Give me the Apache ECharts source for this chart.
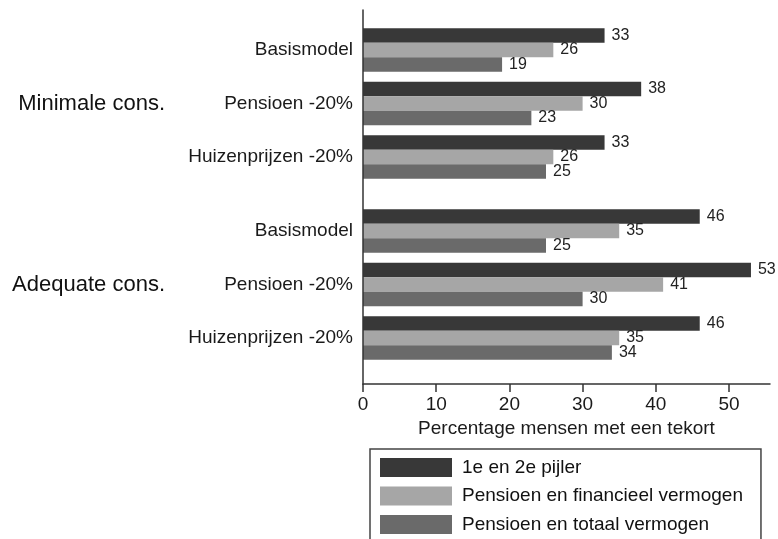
<!DOCTYPE html>
<html>
<head>
<meta charset="utf-8">
<title>Percentage mensen met een tekort</title>
<script src="https://cdn.jsdelivr.net/npm/echarts@6/dist/echarts.min.js"></script>
<style>
  html, body { margin: 0; padding: 0; background: #fff; }
  #chart { width: 778px; height: 539px; }
</style>
</head>
<body>
<div id="chart"></div>
<script>
// data
var categories = ["Basismodel", "Pensioen -20%", "Huizenprijzen -20%"];
var groups = ["Minimale cons.", "Adequate cons."];
var seriesNames = ["1e en 2e pijler", "Pensioen en financieel vermogen", "Pensioen en totaal vermogen"];
var minimalePijler = [33, 38, 33];
var minimaleFinancieel = [26, 30, 26];
var minimaleTotaal = [19, 23, 25];
var adequatePijler = [46, 53, 46];
var adequateFinancieel = [35, 41, 35];
var adequateTotaal = [25, 30, 34];
var xTicks = [0, 10, 20, 30, 40, 50];

var colorList = ["#383838", "#a6a6a6", "#6a6a6a"];
var xMax = 55.6;
var font = "Liberation Sans";

var chart = echarts.init(document.getElementById("chart"));

function barGridAxes(gridIndex) {
  return {
    x: {
      type: "value",
      gridIndex: gridIndex,
      min: 0,
      max: xMax,
      show: false
    },
    y: [
      {
        type: "category",
        gridIndex: gridIndex,
        inverse: true,
        data: categories,
        axisLine: { show: false },
        axisTick: { show: false },
        axisLabel: { margin: 10, fontSize: 19, color: "#1a1a1a" }
      },
      {
        // groepslabel links
        type: "category",
        gridIndex: gridIndex,
        position: "left",
        offset: 190,
        data: [groups[gridIndex - 1]],
        axisLine: { show: false },
        axisTick: { show: false },
        axisLabel: { margin: 8, fontSize: 22, color: "#111" }
      }
    ]
  };
}

function makeSeries(values, idx, gridIndex) {
  var yIndex = gridIndex === 1 ? 1 : 3;
  return {
    name: seriesNames[idx],
    type: "bar",
    xAxisIndex: gridIndex,
    yAxisIndex: yIndex,
    barGap: "0%",
    barCategoryGap: "19%",
    itemStyle: { color: colorList[idx] },
    label: {
      show: true,
      position: "right",
      distance: 7,
      fontSize: 16,
      color: "#222"
    },
    data: values
  };
}

var g1 = barGridAxes(1);
var g2 = barGridAxes(2);

var option = {
  animation: false,
  textStyle: { fontFamily: font },
  grid: [
    // frame with the axes
    { left: 363, right: 8, top: 10, bottom: 155 },
    { left: 363, right: 8, top: 23.25, height: 160.5 },
    { left: 363, right: 8, top: 204.25, height: 160.5 }
  ],
  legend: {
    orient: "vertical",
    left: 370,
    top: 449,
    height: 120,
    icon: "rect",
    itemWidth: 72,
    itemHeight: 19,
    itemGap: 9.5,
    padding: [9, 18, 20, 10],
    borderColor: "#444",
    borderWidth: 1.5,
    borderRadius: 0,
    selectedMode: false,
    textStyle: {
      fontSize: 19,
      color: "#111",
      padding: [0, 0, 0, 5]
    },
    data: seriesNames
  },
  xAxis: [
    {
      type: "value",
      gridIndex: 0,
      min: 0,
      max: xMax,
      interval: 10,
      axisLine: { show: true, lineStyle: { color: "#333", width: 1.5 } },
      axisTick: { show: true, length: 8, lineStyle: { color: "#333", width: 1.5 } },
      axisLabel: {
        margin: 11,
        fontSize: 19,
        color: "#1a1a1a",
        showMaxLabel: false,
        formatter: function (v) {
          return xTicks.indexOf(v) > -1 ? String(v) : "";
        }
      },
      splitLine: { show: false },
      name: "Percentage mensen met een tekort",
      nameLocation: "middle",
      nameGap: 32,
      nameTextStyle: { fontSize: 19, color: "#1a1a1a" }
    },
    g1.x,
    g2.x
  ],
  yAxis: [
    {
      type: "value",
      gridIndex: 0,
      z: 5,
      axisLine: { show: true, lineStyle: { color: "#333", width: 1.5 } },
      axisTick: { show: false },
      axisLabel: { show: false },
      splitLine: { show: false }
    },
    g1.y[0],
    g1.y[1],
    g2.y[0],
    g2.y[1]
  ],
  series: [
    makeSeries(minimalePijler, 0, 1),
    makeSeries(minimaleFinancieel, 1, 1),
    makeSeries(minimaleTotaal, 2, 1),
    makeSeries(adequatePijler, 0, 2),
    makeSeries(adequateFinancieel, 1, 2),
    makeSeries(adequateTotaal, 2, 2)
  ]
};

chart.setOption(option);
</script>
</body>
</html>
